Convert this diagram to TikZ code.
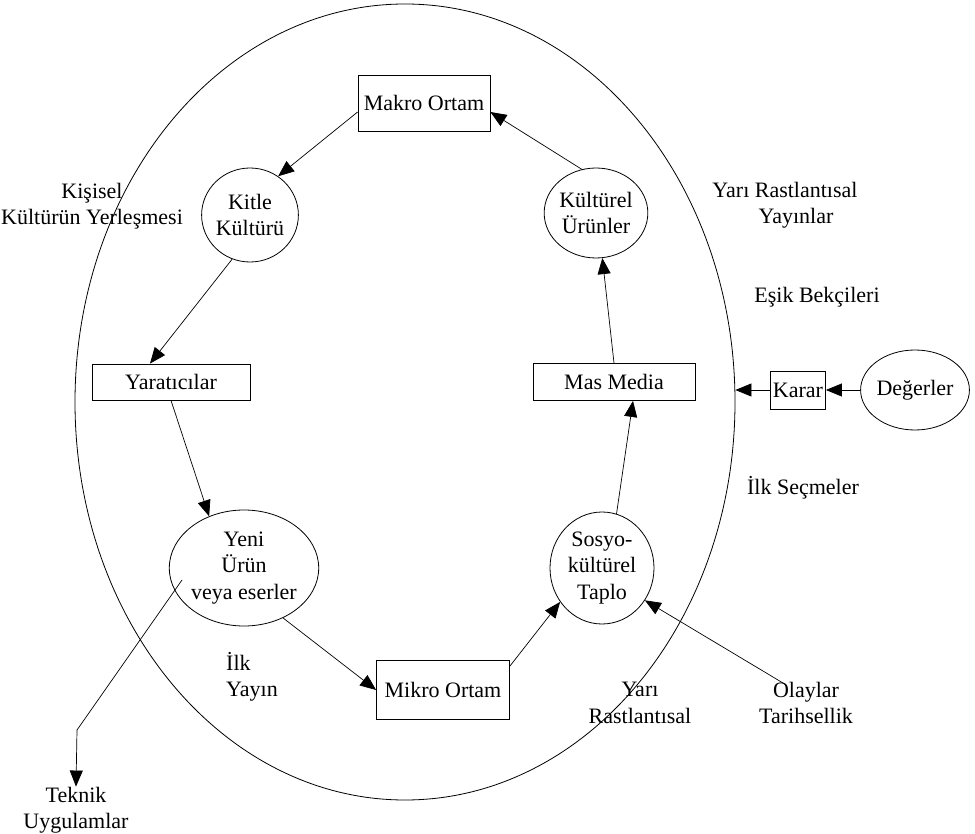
\documentclass[tikz,border=0pt]{standalone}
\usepackage{fontspec}
\setmainfont{Liberation Serif}
\usetikzlibrary{shapes.geometric,arrows.meta}
\tikzset{
  box/.style={draw,rectangle,line width=0.8pt,inner sep=1pt,align=center},
  oval/.style={draw,ellipse,line width=0.8pt,inner sep=0pt,align=center},
  lbl/.style={inner sep=0pt,align=center},
  arr/.style={line width=0.7pt,-{Triangle[length=16pt,width=13pt]}},
  plain/.style={line width=0.7pt}
}
\begin{document}
\begin{tikzpicture}[x=1pt,y=-1pt,font=\fontsize{22}{26.5}\selectfont]
\useasboundingbox (0,0) rectangle (975,834);
\node[draw,ellipse,line width=0.8pt,minimum width=660pt,minimum height=796pt,inner sep=0pt] (big) at (405,402) {};
% boxes
\node[box,minimum width=132pt,minimum height=56pt] (makro) at (424,103) {Makro Ortam};
\node[box,minimum width=158pt,minimum height=36pt] (yarat) at (171,382) {Yaratıcılar};
\node[box,minimum width=162pt,minimum height=37pt] (mas) at (614,382) {Mas Media};
\node[box,minimum width=55pt,minimum height=38pt] (karar) at (798,390) {Karar};
\node[box,minimum width=133pt,minimum height=59pt] (mikro) at (443,690) {Mikro Ortam};
% ovals
\node[oval,minimum width=80pt,minimum height=94pt] (kitle) at (250,215) {Kitle\\Kültürü};
\node[oval,minimum width=82pt,minimum height=90pt] (kult) at (596,213) {Kültürel\\Ürünler};
\node[oval,minimum width=148pt,minimum height=116pt] (yeni) at (244,568) {Yeni\\Ürün\\veya eserler};
\node[oval,minimum width=104pt,minimum height=112pt] (sosyo) at (602,568) {Sosyo-\\kültürel\\Taplo};
\node[oval,minimum width=100pt,minimum height=80pt] (deg) at (915,390) {Değerler};
% labels
\node[lbl] (kisisel) at (92,206) {Kişisel\\Kültürün Yerleşmesi};
\node[lbl] (yariyay) at (785,205) {Yarı Rastlantısal\\\quad Yayınlar};
\node[lbl] (esik) at (817,297) {Eşik Bekçileri};
\node[lbl] (ilksec) at (803,488) {İlk Seçmeler};
\node[lbl,align=left,anchor=west] (ilkyay) at (226,677) {İlk\\Yayın};
\node[lbl] (yarirast) at (640,703) {Yarı\\Rastlantısal};
\node[lbl] (olay) at (806,703) {Olaylar\\Tarihsellik};
\node[lbl] (teknik) at (76,810) {Teknik\\Uygulamlar};
% connectors
\draw[arr] (kult.108) -- ([yshift=-9pt]makro.east);
\draw[arr] ([yshift=-9pt]makro.west) -- (kitle.54);
\draw[arr] (kitle.248) -- ([xshift=-21pt]yarat.north);
\draw[arr] (yarat.south) -- (yeni.124);
\draw[arr] (yeni.-52) -- (mikro.west);
\draw[arr] ([yshift=-6pt]mikro.north east) -- (sosyo.219);
\draw[arr] (sosyo.75) -- ([xshift=19pt]mas.south);
\draw[arr] (mas.north) -- (kult.-82);
\draw[arr] (karar.west) -- (karar.west -| big.east);
\draw[arr] (deg.west) -- (karar.east);
\draw[arr] ([xshift=-20pt,yshift=-3pt]olay.north) -- (sosyo.-37);
\coordinate (tstart) at ([xshift=-62pt,yshift=-12pt]yeni.center);
\coordinate (tbend) at (77,730);
\draw[plain] (tstart) -- (tbend);
\draw[arr] (tbend) -- (teknik.north);
\end{tikzpicture}
\end{document}
